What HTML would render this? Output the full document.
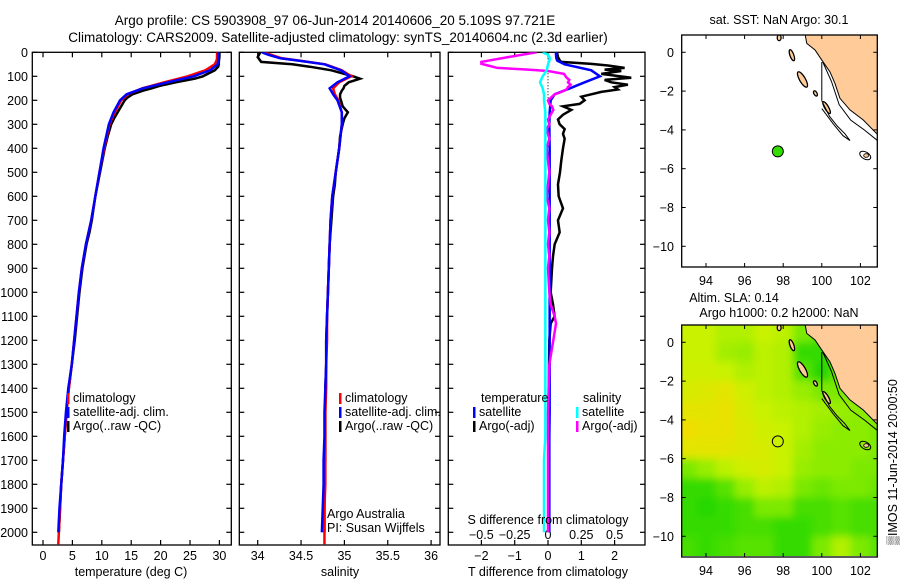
<!DOCTYPE html>
<html><head><meta charset="utf-8"><style>
html,body{margin:0;padding:0;background:#fff;}
svg{display:block;font-family:"Liberation Sans",sans-serif;}
text{fill:#000;}
</style></head><body>
<svg id="fig" width="900" height="580" viewBox="0 0 900 580" xmlns="http://www.w3.org/2000/svg">
<defs>
<clipPath id="cp1"><rect x="32.3" y="52.3" width="199" height="492.7"/></clipPath>
<clipPath id="cp2"><rect x="239.3" y="52.3" width="200.7" height="492.7"/></clipPath>
<clipPath id="cp3"><rect x="448.3" y="52.3" width="196.7" height="492.7"/></clipPath>
<clipPath id="cpm1"><rect x="681.7" y="35" width="195.6" height="232"/></clipPath>
<clipPath id="cpm2"><rect x="681.7" y="325" width="195.6" height="231"/></clipPath>
<filter id="blur" x="-10%" y="-10%" width="120%" height="120%"><feGaussianBlur stdDeviation="4"/></filter>
</defs>
<text x="335" y="25" font-size="13.5" text-anchor="middle">Argo profile: CS 5903908_97 06-Jun-2014 20140606_20 5.109S 97.721E</text>
<text x="338" y="42" font-size="13.5" text-anchor="middle">Climatology: CARS2009. Satellite-adjusted climatology: synTS_20140604.nc (2.3d earlier)</text>
<g id="g"></g>
</svg>
<script>
// ---- profile data ----
const climDepth=[0,10,25,35,50,75,100,125,150,175,200,250,300,400,500,600,700,800,900,1000,1100,1200,1300,1400,1500,1600,1700,1800,1900,2000,2050];
const tClim=[29.6,29.6,29.6,29.5,29.2,27.6,24.6,20.6,16.9,14.4,13.3,12.2,11.3,10.4,9.6,8.9,8.2,7.3,6.6,6.1,5.7,5.3,4.9,4.4,4.0,3.7,3.4,3.1,2.9,2.7,2.6];
const sClim=[34.08,34.15,34.28,34.49,34.78,34.97,35.08,34.94,34.87,34.89,34.93,34.97,34.97,34.94,34.90,34.86,34.84,34.83,34.82,34.81,34.80,34.80,34.79,34.79,34.78,34.78,34.78,34.78,34.77,34.77,34.77];
const satDepth=[0,10,25,35,50,75,100,125,150,175,200,250,300,400,500,600,700,800,900,1000,1100,1200,1300,1400,1500,1600,1700,1800,1900,2000];
const tSat=[29.8,29.8,29.8,29.8,29.7,28.4,25.6,21.2,17.0,14.2,13.1,12.0,11.2,10.3,9.6,8.9,8.2,7.3,6.6,6.1,5.7,5.3,4.9,4.3,3.9,3.6,3.4,3.1,2.8,2.6];
const sSat=[34.05,34.12,34.26,34.48,34.77,34.96,35.06,34.92,34.83,34.87,34.92,34.97,34.97,34.94,34.90,34.86,34.84,34.83,34.82,34.81,34.80,34.79,34.79,34.78,34.77,34.77,34.76,34.76,34.75,34.74];
const argoDepth=[0,20,40,50,60,75,90,100,110,125,140,150,160,175,190,200,225,250,275,300,350,400,450,500,550,600,650,700,750,800,900,1000,1100,1200,1300,1400,1500,1600,1700,1800,1900,2000];
const tArgo=[30.0,30.0,29.9,29.9,29.8,29.2,28.0,27.2,25.8,22.6,19.8,18.5,17.0,15.2,14.3,13.9,13.3,12.7,12.1,11.6,11.0,10.5,10.1,9.7,9.3,8.9,8.6,8.3,7.9,7.4,6.7,6.2,5.8,5.4,4.9,4.4,4.0,3.7,3.4,3.1,2.9,2.7];
const sArgo=[34.03,34.0,34.04,34.4,34.6,34.85,35.0,35.1,35.18,35.05,35.0,34.99,34.97,34.95,34.95,34.96,34.98,35.04,35.0,34.98,34.95,34.94,34.92,34.9,34.89,34.87,34.86,34.85,34.84,34.83,34.82,34.81,34.8,34.79,34.79,34.78,34.78,34.78,34.78,34.77,34.77,34.77];
// differences from climatology
const dtSat=[0.24,0.24,0.25,0.28,0.5,1.3,1.56,1.1,0.66,0.2,0.08,0.05,0.04,0.05,0.05,0.05,0.05,0.05,0.05,0.05,0.05,0.05,0.05,0.05,0.05,0.04,0.04,0.04,0.04,0.04];
const dsSat=[-0.04,0.0,0.015,0.01,0.0,-0.01,-0.04,-0.06,-0.04,-0.03,-0.03,-0.02,-0.02,-0.02,-0.02,-0.02,-0.02,-0.02,-0.02,-0.02,-0.02,-0.02,-0.02,-0.02,-0.02,-0.02,-0.03,-0.03,-0.03,-0.03];
const diffDepth=[0,20,35,40,48,55,65,72,78,90,106,115,125,135,145,155,165,175,185,200,215,225,240,260,280,300,320,340,360,400,450,500,550,600,650,700,750,800,850,900,1000,1050,1100,1130,1200,1300,1500,1800,2000];
const dtArgo=[0.27,0.3,0.36,0.4,1.3,1.8,2.3,1.7,2.2,1.6,2.5,1.7,1.9,2.4,2.0,2.1,1.6,1.3,1.0,1.1,0.95,0.45,0.7,0.45,0.3,0.35,0.5,0.45,0.5,0.45,0.4,0.36,0.3,0.32,0.45,0.3,0.35,0.2,0.15,0.12,0.08,0.15,0.2,0.08,0.04,0.03,0.03,0.02,0.02];
const dsArgo=[-0.085,-0.3,-0.45,-0.5,-0.5,-0.45,-0.38,-0.15,0.0,0.12,0.14,0.16,0.15,0.17,0.15,0.14,0.1,0.05,0.03,0.0,0.01,0.03,0.04,0.02,0.0,0.01,-0.01,0.0,0.01,-0.01,0.0,0.01,0.0,-0.01,0.01,0.0,0.01,0.0,0.01,0.0,0.01,0.02,0.05,0.06,0.04,0.01,0.0,0.0,0.0];
// tick labels
const depthTicks=[0,100,200,300,400,500,600,700,800,900,1000,1100,1200,1300,1400,1500,1600,1700,1800,1900,2000];
const tTicks=[0,5,10,15,20,25,30];
const sTicks=[34,34.5,35,35.5,36];
const tdTicks=[-2,-1,0,1,2];
const sdTicks=[-0.5,-0.25,0,0.25,0.5];
// ---- map data ----
const argoLon=97.721, argoLat=-5.109;
const lonTicks=[94,96,98,100,102];
const latTicks=[0,-2,-4,-6,-8,-10];
const slaLon=[93,94,95,96,97,98,99,100,101,102,103];
const slaLat=[0.5,-0.5,-1.5,-2.5,-3.5,-4.5,-5.5,-6.5,-7.5,-8.5,-9.5,-10.5];
const sla=[
[0.6,0.6,0.5,0.5,0.6,0.55,0.3,0.2,0.3,0.3,0.3],
[0.6,0.6,0.45,0.4,0.55,0.5,0.1,0.1,0.25,0.3,0.3],
[0.65,0.65,0.6,0.5,0.55,0.5,0.2,0.05,0.25,0.3,0.3],
[0.7,0.75,0.8,0.65,0.55,0.5,0.4,0.3,0.3,0.3,0.3],
[0.8,0.8,0.85,0.7,0.6,0.55,0.5,0.45,0.4,0.35,0.3],
[0.9,0.85,0.85,0.75,0.65,0.6,0.5,0.4,0.35,0.35,0.3],
[0.8,0.8,0.8,0.75,0.7,0.6,0.45,0.35,0.35,0.35,0.3],
[0.3,0.4,0.55,0.65,0.7,0.6,0.4,0.35,0.35,0.3,0.3],
[0.1,0.1,0.2,0.4,0.55,0.5,0.3,0.25,0.3,0.3,0.25],
[0.1,0.05,0.1,0.15,0.3,0.3,0.15,0.15,0.2,0.15,0.15],
[0.1,0.1,0.1,0.15,0.15,0.1,0.1,0.15,0.2,0.15,0.15],
[0.15,0.1,0.15,0.2,0.2,0.1,0.1,0.3,0.5,0.3,0.2]];
const coastLon=[99.13,99.22,99.65,100.0,100.42,100.68,100.94,101.46,102.15,103.0,103.0];
const coastLat=[0.95,0.46,0.12,-0.4,-1.0,-1.6,-2.37,-2.97,-3.49,-4.35,0.95];

const NS="http://www.w3.org/2000/svg";
const G=document.getElementById('g');
function el(tag,attrs,parent,txt){const e=document.createElementNS(NS,tag);for(const k in attrs)e.setAttribute(k,attrs[k]);if(txt!==undefined)e.textContent=txt;(parent||G).appendChild(e);return e;}
const Y0=52.3, YB=545, PXM=0.24;
const yD=d=>Y0+d*PXM;
const xT=v=>43+v*5.88;
const xS=v=>257.7+(v-34)*86.7;
const xTD=v=>548+v*33.3;
const xSD=v=>548+v*133.3;
const panels=[[32.3,231.3,'cp1'],[239.3,440,'cp2'],[448.3,645,'cp3']];

function frame(p,name){
  const r=el('rect',{x:p[0],y:Y0,width:p[1]-p[0],height:YB-Y0,fill:'none',stroke:'#000','stroke-width':1.3});
  
  
  depthTicks.forEach(d=>{
    el('line',{x1:p[0],x2:p[0]+5,y1:yD(d),y2:yD(d),stroke:'#000','stroke-width':1.2});
    el('line',{x1:p[1]-5,x2:p[1],y1:yD(d),y2:yD(d),stroke:'#000','stroke-width':1.2});
  });
}
function xticks(ticks,fx,labY,name){
  ticks.forEach(t=>{
    const x=fx(t);
    el('line',{x1:x,x2:x,y1:YB,y2:YB-5,stroke:'#000','stroke-width':1.2});
    el('line',{x1:x,x2:x,y1:Y0,y2:Y0+5,stroke:'#000','stroke-width':1.2});
    if(labY){const tx=el('text',{x:x,y:labY,'font-size':12.5,'text-anchor':'middle'},G,String(t).replace('-','\u2212'));
      
      }
  });
}
function prof(depths,vals,fx,color,w,clip,name){
  const pts=depths.map((d,i)=>fx(vals[i]).toFixed(2)+','+yD(d).toFixed(2)).join(' ');
  const pl=el('polyline',{points:pts,fill:'none',stroke:color,'stroke-width':w,'stroke-linejoin':'miter','clip-path':'url(#'+clip+')'});
  
  
}
function legend(x,y,color,label,name){
  el('rect',{x:x,y:y-9,width:2.5,height:11,fill:color});
  const t=el('text',{x:x+6,y:y,'font-size':12.5},G,label);
  
  
}

// panel 1 temperature
frame(panels[0],'temperature-panel');
depthTicks.forEach(d=>{const t=el('text',{x:28,y:yD(d)+4.5,'font-size':12.5,'text-anchor':'end'},G,String(d));
  
  });
xticks(tTicks,xT,560,'temperature-tick-label');
prof(argoDepth,tArgo,xT,'#000',2.5,'cp1','temperature-argo-line');
prof(climDepth,tClim,xT,'#ff0000',2.5,'cp1','temperature-climatology-line');
prof(satDepth,tSat,xT,'#0000ff',2.5,'cp1','temperature-satellite-line');
legend(67,402,'#ff0000','climatology','legend-climatology');
legend(67,416,'#0000ff','satellite-adj. clim.','legend-satellite-adj');
legend(67,430,'#000','Argo(..raw -QC)','legend-argo');
let t1=el('text',{x:131,y:576,'font-size':12.5,'text-anchor':'middle'},G,'temperature (deg C)');



// panel 2 salinity
frame(panels[1],'salinity-panel');
xticks(sTicks,xS,560,'salinity-tick-label');
prof(argoDepth,sArgo,xS,'#000',2.5,'cp2','salinity-argo-line');
prof(climDepth,sClim,xS,'#ff0000',2.5,'cp2','salinity-climatology-line');
prof(satDepth,sSat,xS,'#0000ff',2.5,'cp2','salinity-satellite-line');
legend(339,402,'#ff0000','climatology','legend-climatology-2');
legend(339,416,'#0000ff','satellite-adj. clim.','legend-satellite-adj-2');
legend(339,430,'#000','Argo(..raw -QC)','legend-argo-2');
let t2=el('text',{x:327,y:518,'font-size':12.5},G,'Argo Australia');


let t3=el('text',{x:327,y:532,'font-size':12.5},G,'PI: Susan Wijffels');


let t4=el('text',{x:340,y:576,'font-size':12.5,'text-anchor':'middle'},G,'salinity');



// panel 3 differences
frame(panels[2],'difference-panel');
xticks(tdTicks,xTD,560,'t-difference-tick-label');
sdTicks.forEach(s=>{const t=el('text',{x:xSD(s),y:539,'font-size':12.5,'text-anchor':'middle'},G,String(s).replace('-','\u2212'));
  
  });
el('line',{x1:xTD(0),x2:xTD(0),y1:Y0,y2:100,stroke:'#000','stroke-width':1,'stroke-dasharray':'1,2'});
prof(diffDepth,dtArgo,xTD,'#000',2.5,'cp3','t-difference-argo-line');
prof(satDepth,dtSat,xTD,'#0000ff',2.5,'cp3','t-difference-satellite-line');
prof(diffDepth,dsArgo,xSD,'#ff00ff',2.5,'cp3','s-difference-argo-line');
prof(satDepth,dsSat,xSD,'#00ffff',2.5,'cp3','s-difference-satellite-line');
let t5=el('text',{x:481,y:402,'font-size':12.5},G,'temperature');


let t6=el('text',{x:583,y:402,'font-size':12.5},G,'salinity');


legend(473,416,'#0000ff','satellite','legend-t-satellite');
legend(473,430,'#000','Argo(-adj)','legend-t-argo');
legend(576,416,'#00ffff','satellite','legend-s-satellite');
legend(576,430,'#ff00ff','Argo(-adj)','legend-s-argo');
let t7=el('text',{x:548,y:524,'font-size':12.5,'text-anchor':'middle'},G,'S difference from climatology');


let t8=el('text',{x:548,y:576,'font-size':12.5,'text-anchor':'middle'},G,'T difference from climatology');



// ---- maps ----
const mX=lon=>706+(lon-94)*19.3;
function drawMap(top,lat0,clip,withSla,name){
  const mY=lat=>lat0-lat*19.4;
  const g=el('g',{'clip-path':'url(#'+clip+')'});
  
  
  if(withSla){
    const hb=el('g',{filter:'url(#blur)'},g);
    const stops=[[0,[20,212,0]],[0.35,[140,236,0]],[0.6,[200,242,0]],[0.9,[240,222,0]]];
    const col=v=>{for(let i=1;i<stops.length;i++){if(v<=stops[i][0]||i==stops.length-1){const a=stops[i-1],b=stops[i];let f=(v-a[0])/(b[0]-a[0]);f=Math.max(0,Math.min(1,f));return 'rgb('+a[1].map((c,k)=>Math.round(c+(b[1][k]-c)*f)).join(',')+')';}}};
    slaLat.forEach((la,r)=>slaLon.forEach((lo,c)=>{
      const ex0=c==0?1:0, ex1=c==slaLon.length-1?1:0, ey0=r==0?1:0, ey1=r==slaLat.length-1?1:0;
      const x=mX(lo-0.5-ex0), y=mY(la+0.5+ey0);
      const cell=el('rect',{x:x,y:y,width:mX(lo+0.5+ex1)-x+0.5,height:mY(la-0.5-ey1)-y+0.5,fill:col(sla[r][c])},hb);
      
      
    }));
  }
  const land=el('polygon',{points:coastLon.map((lo,i)=>mX(lo)+','+mY(coastLat[i])).join(' '),fill:'#ffcc99',stroke:'#000','stroke-width':1},g);
  
  
  const isl=[[97.79,0.75,0.1,0.15,0],[98.45,-0.15,0.1,0.3,-20],[99.0,-1.4,0.15,0.45,-30],[99.67,-2.12,0.08,0.15,-30],[100.25,-2.85,0.1,0.35,-30]];
  isl.forEach(s=>{const e=el('ellipse',{cx:mX(s[0]),cy:mY(s[1]),rx:s[2]*19.3,ry:s[3]*19.4,fill:'#ffcc99',stroke:'#000','stroke-width':1.3,transform:'rotate('+s[4]+' '+mX(s[0])+' '+mY(s[1])+')'},g);
    
    });
  el('ellipse',{cx:mX(102.25),cy:mY(-5.32),rx:6,ry:3.5,fill:'none',stroke:'#000','stroke-width':1,transform:'rotate(30 '+mX(102.25)+' '+mY(-5.32)+')'},g);
  el('ellipse',{cx:mX(102.3),cy:mY(-5.32),rx:2.5,ry:1.8,fill:'#ffcc99',stroke:'#000','stroke-width':0.8},g);
  const cont=[[[100.0,-0.5],[100.0,-2.5]],[[100.05,-0.5],[100.5,-1.5],[100.9,-2.7],[101.5,-3.5],[102.2,-4.0],[102.95,-4.6],[103.1,-4.6]],[[100.0,-2.5],[100.4,-3.3],[100.8,-3.8],[101.2,-4.2],[101.46,-4.55],[101.1,-4.3],[100.6,-3.7],[100.0,-2.9]]];
  cont.forEach(c=>el('polyline',{points:c.map(p=>mX(p[0])+','+mY(p[1])).join(' '),fill:'none',stroke:'#000','stroke-width':1},g));
  const dot=el('circle',{cx:mX(argoLon),cy:mY(argoLat),r:5.5,fill:withSla?'none':'#33dd00',stroke:'#000','stroke-width':1},g);
  
  
  const bot=top+232;
  el('rect',{x:681.7,y:top,width:195.6,height:232,fill:'none',stroke:'#000','stroke-width':1.3});
  lonTicks.forEach(lo=>{const x=mX(lo);
    el('line',{x1:x,x2:x,y1:top,y2:top+4,stroke:'#000'});el('line',{x1:x,x2:x,y1:bot,y2:bot-4,stroke:'#000'});
    const t=el('text',{x:x,y:bot+18,'font-size':12.5,'text-anchor':'middle'},G,String(lo));
    
    });
  latTicks.forEach(la=>{const y=mY(la);
    el('line',{x1:681.7,x2:685.7,y1:y,y2:y,stroke:'#000'});el('line',{x1:877.3,x2:873.3,y1:y,y2:y,stroke:'#000'});
    const t=el('text',{x:674,y:y+4.5,'font-size':12.5,'text-anchor':'end'},G,String(la).replace('-','\u2212'));
    
    });
}
drawMap(35,52.3,'cpm1',false,'sst-map');
drawMap(325,342.3,'cpm2',true,'sla-map');
let m1=el('text',{x:779,y:24,'font-size':12.5,'text-anchor':'middle'},G,'sat. SST: NaN Argo: 30.1');


let m2=el('text',{x:734,y:302,'font-size':12.5,'text-anchor':'middle'},G,'Altim. SLA: 0.14');


let m3=el('text',{x:779,y:317,'font-size':12.5,'text-anchor':'middle'},G,'Argo h1000: 0.2 h2000: NaN');


let m4=el('text',{x:0,y:0,'font-size':12.5,'text-anchor':'middle',transform:'translate(897,462) rotate(-90)'},G,'\u2592IMOS 11-Jun-2014 20:00:50');


</script>
</body></html>
